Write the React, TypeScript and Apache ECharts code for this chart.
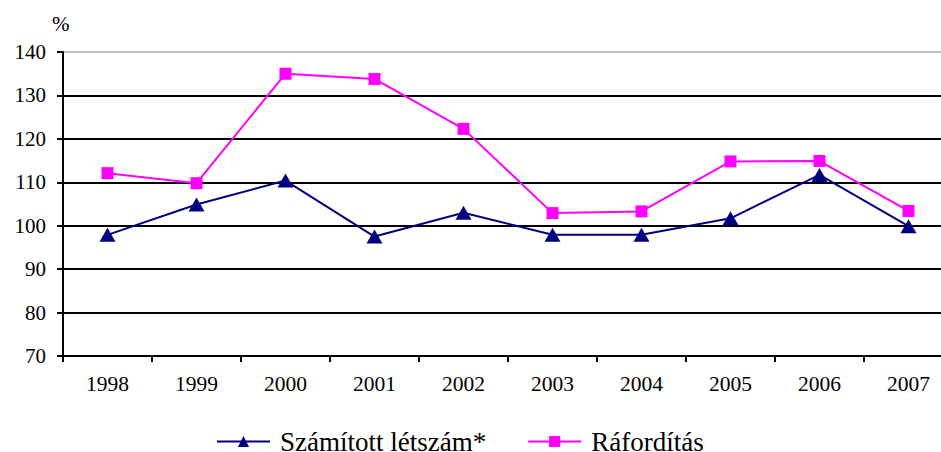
import React, { useEffect, useRef } from "react";
import * as echarts from "echarts";

const years = ["1998", "1999", "2000", "2001", "2002", "2003", "2004", "2005", "2006", "2007"];
const szamitott = [97.9, 104.9, 110.4, 97.5, 103.0, 97.9, 97.9, 101.7, 111.7, 99.9];
const raforditas = [112.1, 109.8, 135.0, 133.8, 122.3, 102.9, 103.3, 114.8, 114.9, 103.4];
const yTicks = { min: 70, max: 140, interval: 10 };

const FONT = "Liberation Serif, Times New Roman, serif";

export default function App() {
  const ref = useRef<HTMLDivElement>(null);
  useEffect(() => {
    if (!ref.current) return;
    const chart = echarts.init(ref.current, undefined, { renderer: "svg" });
    chart.setOption({
      animation: false,
      backgroundColor: "#fff",
      textStyle: { fontFamily: FONT },
      grid: { left: 63, top: 52, width: 890, bottom: 96, containLabel: false, outerBoundsMode: "none" },
      graphic: [
        {
          type: "text",
          left: 52,
          top: 13,
          style: { text: "%", fontFamily: FONT, fontSize: 21, fill: "#000" },
        },
      ],
      legend: {
        left: 216,
        top: 428,
        padding: 0,
        itemWidth: 53,
        itemHeight: 14,
        itemGap: 41,
        textStyle: { fontFamily: FONT, fontSize: 27, color: "#000", padding: [0, 0, 0, 5] },
        data: ["Számított létszám*", "Ráfordítás"],
      },
      xAxis: {
        type: "category",
        data: years,
        boundaryGap: true,
        axisLine: { show: true, lineStyle: { color: "#000", width: 2 } },
        axisTick: { show: true, length: 6, lineStyle: { color: "#000", width: 2 } },
        axisLabel: { color: "#000", fontFamily: FONT, fontSize: 21.5, margin: 17 },
        splitLine: { show: false },
      },
      yAxis: {
        type: "value",
        min: yTicks.min,
        max: yTicks.max,
        interval: yTicks.interval,
        axisLine: { show: true, lineStyle: { color: "#000", width: 2 } },
        axisTick: { show: true, length: 6, lineStyle: { color: "#000", width: 2 } },
        axisLabel: { color: "#000", fontFamily: FONT, fontSize: 21, margin: 17 },
        splitLine: {
          show: true,
          lineStyle: {
            color: ["#000", "#000", "#000", "#000", "#000", "#000", "#000", "#c0c0c0"],
            width: 2,
          },
        },
      },
      series: [
        {
          name: "Számított létszám*",
          type: "line",
          data: szamitott,
          symbol: "triangle",
          symbolSize: [16, 14],
          itemStyle: { color: "#000080" },
          lineStyle: { color: "#000080", width: 2 },
        },
        {
          name: "Ráfordítás",
          type: "line",
          data: raforditas,
          symbol: "rect",
          symbolSize: 12,
          itemStyle: { color: "#ff00ff" },
          lineStyle: { color: "#ff00ff", width: 2 },
        },
      ],
    });
    return () => chart.dispose();
  }, []);
  return <div ref={ref} style={{ width: 941, height: 452, position: "absolute", left: 0, top: 0 }} />;
}
